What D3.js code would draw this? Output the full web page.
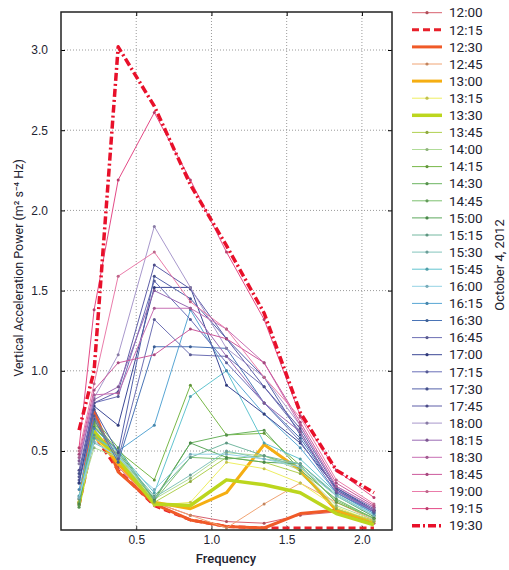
<!DOCTYPE html>
<html>
<head>
<meta charset="utf-8">
<script src="https://cdn.jsdelivr.net/npm/d3@7"></script>
<style>
  body { margin: 0; background: #fff; }
  svg { font-family: Roboto, "Open Sans", sans-serif; }
  .grid line { stroke: #9a9a9a; stroke-dasharray: 1,2; }
  .tick text { fill: #1e2330; font-size: 12px; }
</style>
</head>
<body>
<div id="chart"></div>
<script>
// Frequencies (Hz) of the spectral estimates
const freqs = [0.12, 0.22, 0.38, 0.62, 0.86, 1.10, 1.35, 1.59, 1.83, 2.08];

const times = ['12:00','12:15','12:30','12:45','13:00','13:15','13:30','13:45','14:00','14:15','14:30',
  '14:45','15:00','15:15','15:30','15:45','16:00','16:15','16:30','16:45','17:00','17:15','17:30',
  '17:45','18:00','18:15','18:30','18:45','19:00','19:15','19:30'];

// one row per time, one value per frequency
const power = [
  [0.20, 0.64, 0.40, 0.18, 0.10, 0.06, 0.05, 0.10, 0.12, 0.05],
  [0.16, 0.60, 0.38, 0.16, 0.07, 0.03, 0.02, 0.02, 0.02, 0.02],
  [0.17, 0.75, 0.37, 0.17, 0.07, 0.03, 0.02, 0.11, 0.13, 0.06],
  [0.18, 0.70, 0.42, 0.18, 0.10, 0.02, 0.17, 0.30, 0.18, 0.07],
  [0.18, 0.60, 0.42, 0.18, 0.14, 0.24, 0.54, 0.38, 0.13, 0.06],
  [0.17, 0.58, 0.45, 0.16, 0.18, 0.43, 0.39, 0.30, 0.15, 0.06],
  [0.17, 0.62, 0.45, 0.17, 0.16, 0.32, 0.29, 0.24, 0.11, 0.04],
  [0.18, 0.66, 0.47, 0.18, 0.31, 0.46, 0.43, 0.36, 0.14, 0.06],
  [0.20, 0.52, 0.46, 0.20, 0.33, 0.49, 0.47, 0.38, 0.16, 0.07],
  [0.16, 0.68, 0.50, 0.32, 0.91, 0.60, 0.61, 0.41, 0.18, 0.08],
  [0.15, 0.70, 0.52, 0.19, 0.55, 0.60, 0.63, 0.38, 0.20, 0.08],
  [0.17, 0.67, 0.49, 0.19, 0.46, 0.45, 0.47, 0.40, 0.19, 0.08],
  [0.17, 0.65, 0.50, 0.20, 0.55, 0.46, 0.43, 0.42, 0.22, 0.09],
  [0.20, 0.60, 0.48, 0.22, 0.46, 0.55, 0.47, 0.42, 0.22, 0.10],
  [0.22, 0.55, 0.47, 0.21, 0.35, 0.50, 0.45, 0.42, 0.23, 0.10],
  [0.22, 0.58, 0.50, 0.24, 0.84, 1.00, 0.55, 0.45, 0.24, 0.11],
  [0.21, 0.56, 0.46, 0.26, 0.48, 0.48, 0.45, 0.40, 0.22, 0.10],
  [0.26, 0.64, 0.50, 0.66, 1.38, 1.00, 0.73, 0.52, 0.24, 0.11],
  [0.30, 0.70, 0.43, 1.15, 1.15, 1.14, 0.80, 0.58, 0.26, 0.12],
  [0.32, 0.72, 0.45, 1.32, 1.10, 1.09, 0.90, 0.62, 0.25, 0.12],
  [0.30, 0.78, 0.66, 1.52, 1.52, 0.91, 0.73, 0.55, 0.27, 0.13],
  [0.34, 0.80, 0.84, 1.56, 1.32, 1.05, 0.80, 0.56, 0.24, 0.12],
  [0.36, 0.76, 0.49, 1.59, 1.45, 1.20, 0.96, 0.60, 0.26, 0.13],
  [0.38, 0.80, 0.87, 1.66, 1.51, 1.20, 0.90, 0.64, 0.27, 0.14],
  [0.42, 0.83, 1.10, 1.90, 1.52, 1.14, 0.96, 0.66, 0.28, 0.15],
  [0.44, 0.82, 0.90, 1.50, 1.39, 1.09, 0.80, 0.62, 0.25, 0.13],
  [0.46, 0.85, 0.86, 1.39, 1.39, 1.26, 1.05, 0.66, 0.28, 0.15],
  [0.48, 0.88, 1.05, 1.10, 1.26, 1.20, 1.05, 0.68, 0.30, 0.16],
  [0.50, 0.92, 1.59, 1.74, 1.43, 1.26, 0.96, 0.71, 0.32, 0.17],
  [0.52, 1.38, 2.19, 2.61, 2.19, 1.74, 1.32, 0.72, 0.38, 0.21],
  [0.63, 1.00, 3.02, 2.65, 2.16, 1.78, 1.36, 0.74, 0.38, 0.24]
];

const colors = ['#d8606e','#e8202a','#f05a28','#f0a474','#f5ae12','#eeee60','#bcd61e','#b0d050',
  '#b0dc98','#78b848','#6cb460','#7cc070','#5ca85c','#74b8a0','#84c4bc','#62c4d0','#94d2e4',
  '#58a6d4','#4a74b6','#6e70b4','#3c4896','#6a70b8','#5462aa','#5e5ea8','#a898cc','#9a6ab4',
  '#c870b4','#cc5a9c','#ea7caa','#e44a86','#e8102a'];

const yTicks = [0.5, 1.0, 1.5, 2.0, 2.5, 3.0];
const xTicks = [0.5, 1.0, 1.5, 2.0];

// special line styles (everything else: thin line with dots)
const STYLE = {
  '12:15': { w: 3, dash: '7,4', dots: false },
  '12:30': { w: 3, dash: null, dots: false },
  '13:00': { w: 3, dash: null, dots: false },
  '13:30': { w: 3.5, dash: null, dots: false },
  '19:30': { w: 3.5, dash: '8,3,2,3', dots: false }
};
const styleOf = t => STYLE[t] || { w: 1, dash: null, dots: true };

const W = 509, H = 570;
const x = d3.scaleLinear().domain([0, 2.2]).range([61, 392]);
const y = d3.scaleLinear().domain([0.0075, 3.237]).range([530, 12]);

const svg = d3.select('#chart').append('svg').attr('width', W).attr('height', H);

// grid
svg.append('g').attr('class', 'grid')
  .selectAll('line.gx').data(xTicks).join('line')
    .attr('x1', d => x(d)).attr('x2', d => x(d)).attr('y1', y.range()[1]).attr('y2', y.range()[0]);
svg.select('.grid')
  .selectAll('line.gy').data(yTicks).join('line').attr('class', 'gy')
    .attr('y1', d => y(d)).attr('y2', d => y(d)).attr('x1', x.range()[0]).attr('x2', x.range()[1]);

// axes
svg.append('g').attr('transform', `translate(0,${y.range()[0]})`)
  .call(d3.axisBottom(x).tickValues(xTicks).tickFormat(d3.format('.1f')).tickSizeInner(-4).tickSizeOuter(0).tickPadding(5))
  .call(ax => ax.select('.domain').remove())
  .call(ax => ax.selectAll('.tick line').attr('stroke', '#333'));
svg.append('g').attr('transform', `translate(0,${y.range()[1]})`)
  .call(d3.axisTop(x).tickValues(xTicks).tickFormat('').tickSizeInner(-4).tickSizeOuter(0))
  .call(ax => ax.select('.domain').remove());
svg.append('g').attr('transform', `translate(${x.range()[0]},0)`)
  .call(d3.axisLeft(y).tickValues(yTicks).tickFormat(d3.format('.1f')).tickSizeInner(-4).tickSizeOuter(0).tickPadding(13))
  .call(ax => ax.select('.domain').remove());
svg.append('g').attr('transform', `translate(${x.range()[1]},0)`)
  .call(d3.axisRight(y).tickValues(yTicks).tickFormat('').tickSizeInner(-4).tickSizeOuter(0))
  .call(ax => ax.select('.domain').remove());

// series
const line = d3.line().x((d, i) => x(freqs[i])).y(d => y(d));
const series = times.map((t, i) => ({ t, vals: power[i], color: colors[i], st: styleOf(t) }));

const sg = svg.append('g');
series.forEach(s => {
  sg.append('path').datum(s.vals)
    .attr('d', line)
    .attr('fill', 'none')
    .attr('stroke', s.color)
    .attr('stroke-width', s.st.w)
    .attr('stroke-dasharray', s.st.dash)
    .attr('stroke-linejoin', 'round');
  if (s.st.dots) {
    sg.selectAll(null).data(s.vals).join('circle')
      .attr('cx', (d, i) => x(freqs[i])).attr('cy', d => y(d)).attr('r', 1.5)
      .attr('fill', d3.color(s.color).darker(0.6));
  }
});

// frame
svg.append('rect')
  .attr('x', x.range()[0]).attr('y', y.range()[1])
  .attr('width', x.range()[1] - x.range()[0]).attr('height', y.range()[0] - y.range()[1])
  .attr('fill', 'none').attr('stroke', '#222').attr('stroke-width', 1.5);

// axis labels
svg.append('text')
  .attr('x', 226).attr('y', 563)
  .attr('text-anchor', 'middle').attr('font-size', 13).attr('font-weight', 500).attr('fill', '#1e2330')
  .text('Frequency');

svg.append('text')
  .attr('transform', 'translate(23,268) rotate(-90)')
  .attr('text-anchor', 'middle').attr('font-size', 12.5).attr('fill', '#1e2330')
  .text('Vertical Acceleration Power (m² s⁻⁴ Hz)');

svg.append('text')
  .attr('transform', 'translate(504,265) rotate(-90)')
  .attr('text-anchor', 'middle').attr('font-size', 13).attr('fill', '#1e2330')
  .text('October 4, 2012');

// legend
const lg = svg.append('g');
series.forEach((s, i) => {
  const ly = 12.7 + i * 17.1;
  lg.append('line')
    .attr('x1', 412).attr('x2', 442).attr('y1', ly).attr('y2', ly)
    .attr('stroke', s.color).attr('stroke-width', s.st.w)
    .attr('stroke-dasharray', s.st.dash);
  if (s.st.dots) {
    lg.append('circle').attr('cx', 427).attr('cy', ly).attr('r', 1.6)
      .attr('fill', d3.color(s.color).darker(0.6));
  }
  lg.append('text')
    .attr('x', 449).attr('y', ly).attr('dy', '0.35em')
    .attr('font-size', 13.5).attr('fill', '#1e2330')
    .text(s.t);
});
</script>
</body>
</html>
